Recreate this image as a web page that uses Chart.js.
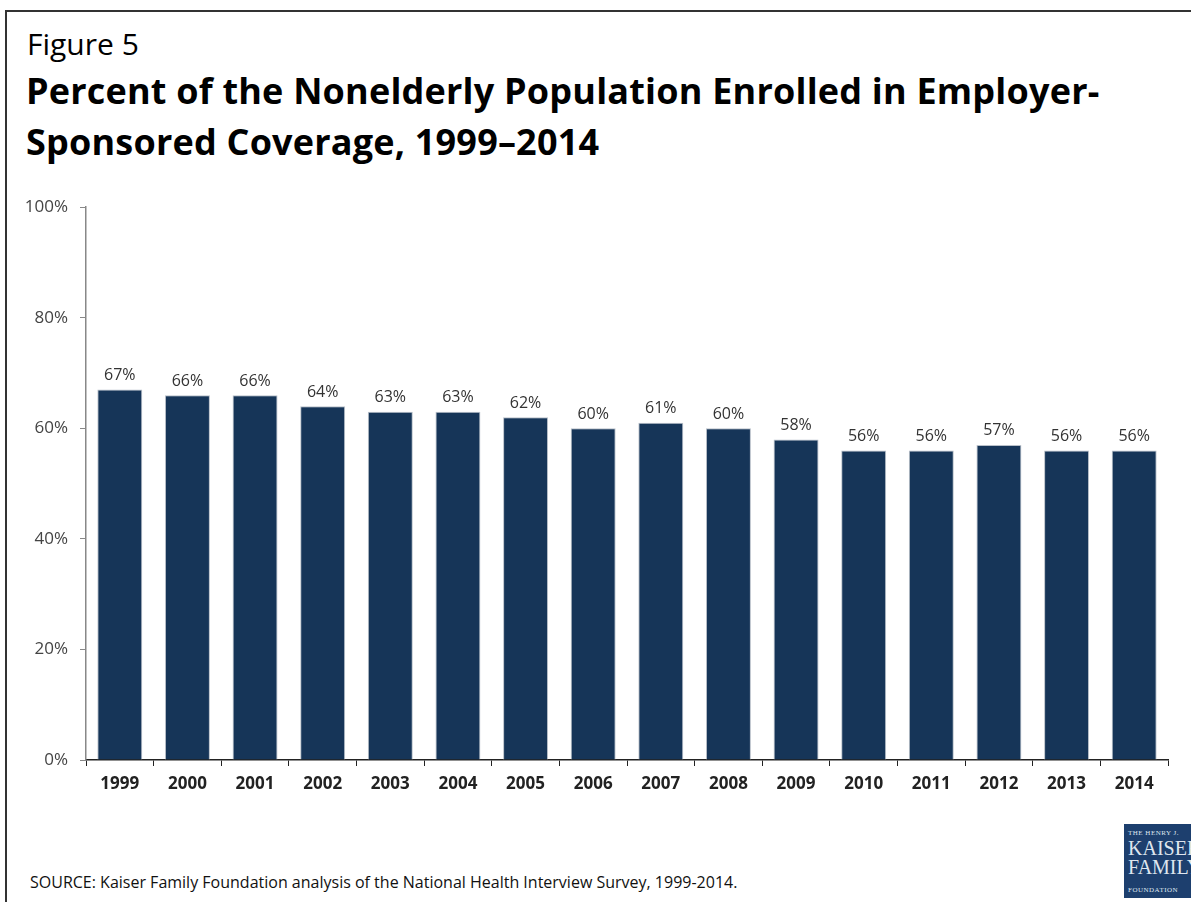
<!DOCTYPE html>
<html>
<head>
<meta charset="utf-8">
<script src="https://cdn.jsdelivr.net/npm/chart.js@4/dist/chart.umd.min.js"></script>
<style>
  body { margin: 0; background: #fff; font-family: "Open Sans", sans-serif; }
  #page { position: relative; width: 1191px; height: 902px; overflow: hidden; }
  #frame { position: absolute; left: 5px; top: 10px; width: 1200px; height: 900px;
           border-left: 2px solid #333; border-top: 2px solid #333; }
  #fig { position: absolute; left: 27px; top: 23px; font-size: 30px; color: #000; }
  #title { position: absolute; left: 26px; top: 65px; font-size: 36px; font-weight: bold;
           line-height: 51px; color: #000; letter-spacing: 0.2px; }
  #source { position: absolute; left: 30px; top: 871px; font-size: 16px; color: #111; }
  #logo { position: absolute; left: 1124px; top: 824px; width: 80px; height: 74px;
          background: #1d3f6e; color: #dfe6ef; font-family: "Liberation Serif", serif; }
  #logo .a { position: absolute; left: 4px; top: 5px; font-size: 7px; letter-spacing: 0.5px; }
  #logo .b { position: absolute; left: 4px; top: 15px; font-size: 20px; line-height: 19px; }
  #logo .c { position: absolute; left: 4px; top: 62px; font-size: 7px; letter-spacing: 0.5px; }
  #wrap { position: absolute; left: 0; top: 185px; width: 1191px; height: 625px; }
</style>
</head>
<body>
<div id="page">
  <div id="frame"></div>
  <div id="fig">Figure 5</div>
  <div id="title">Percent of the Nonelderly Population Enrolled in Employer-<br>Sponsored Coverage, 1999–2014</div>
  <div id="wrap"><canvas id="chart" width="1191" height="625"></canvas></div>
  <div id="source">SOURCE: Kaiser Family Foundation analysis of the National Health Interview Survey, 1999-2014.</div>
  <div id="logo"><div class="a">THE HENRY J.</div><div class="b">KAISER<br>FAMILY</div><div class="c">FOUNDATION</div></div>
</div>
<script>
const years = ['1999','2000','2001','2002','2003','2004','2005','2006','2007','2008','2009','2010','2011','2012','2013','2014'];
const enrolled = [67, 66, 66, 64, 63, 63, 62, 60, 61, 60, 58, 56, 56, 57, 56, 56];
const yTicks = [0, 20, 40, 60, 80, 100];

// draws the % labels above each bar
const valueLabels = {
  id: 'valueLabels',
  afterDatasetsDraw(chart) {
    const ctx = chart.ctx;
    const meta = chart.getDatasetMeta(0);
    ctx.save();
    ctx.font = '16px "Open Sans", sans-serif';
    ctx.fillStyle = '#333';
    ctx.textAlign = 'center';
    ctx.textBaseline = 'bottom';
    meta.data.forEach((bar, i) => {
      ctx.fillText(enrolled[i] + '%', bar.x, bar.y - 6);
    });
    ctx.restore();
  }
};

new Chart(document.getElementById('chart'), {
  type: 'bar',
  data: {
    labels: years,
    datasets: [{
      data: enrolled,
      backgroundColor: '#163558',
      borderColor: '#b9c0c9',
      borderWidth: 1,
      categoryPercentage: 1,
      barPercentage: 0.665
    }]
  },
  options: {
    responsive: false,
    animation: false,
    layout: { padding: { top: 10, right: 23, left: 0, bottom: 0 } },
    plugins: { legend: { display: false }, tooltip: { enabled: false } },
    scales: {
      x: {
        grid: { drawOnChartArea: false, drawTicks: true, tickLength: 6, color: '#222', offset: true },
        border: { color: '#222', width: 1.5 },
        ticks: { color: '#222', font: { family: '"Open Sans", sans-serif', size: 17, weight: 'bold' }, padding: 8 },
        afterFit: s => { s.height = 50; }
      },
      y: {
        min: 0, max: 100,
        afterBuildTicks: s => { s.ticks = yTicks.map(v => ({ value: v })); },
        grid: { drawOnChartArea: false, drawTicks: true, tickLength: 6, color: '#888' },
        border: { color: '#888', width: 1.5 },
        ticks: { color: '#444', font: { family: '"Open Sans", sans-serif', size: 17 }, padding: 12, callback: v => v + '%' },
        afterFit: s => { s.width = 86; }
      }
    }
  },
  plugins: [valueLabels]
});
</script>
</body>
</html>
